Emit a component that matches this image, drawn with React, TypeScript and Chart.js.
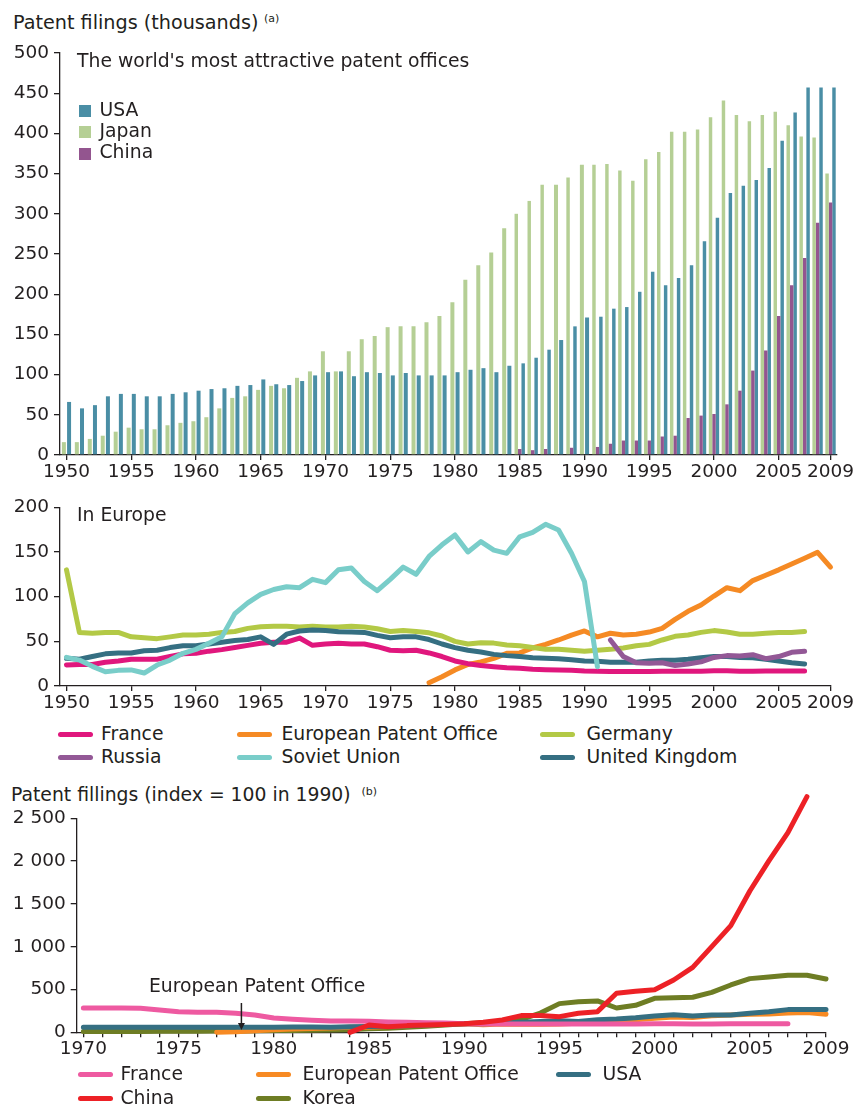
import React, { useEffect, useRef } from "react";
import { Chart, registerables } from "chart.js";

Chart.register(...registerables);

const FONT = '"DejaVu Sans", Verdana, sans-serif';
const INK = "#231f20";
const FS = 18.5;
const TS = 18.8;

// ---------------- Panel 1: patent filings (thousands), bars ----------------
const BAR_YEARS: number[] = Array.from({ length: 60 }, (_, i) => 1950 + i);
const BAR_TICKS = [1950, 1955, 1960, 1965, 1970, 1975, 1980, 1985, 1990, 1995, 2000, 2005, 2009];

const JAPAN_K = [
  16, 16, 20, 24, 29, 34, 32, 32, 37, 40,
  42, 47, 58, 71, 73, 81, 86, 83, 96, 104,
  129, 104, 129, 144, 148, 159, 160, 160, 165, 173,
  190, 218, 236, 252, 282, 300, 316, 336, 336, 345,
  361, 361, 362, 354, 341, 368, 377, 402, 402, 405,
  420, 441, 423, 415, 423, 427, 410, 396, 395, 350,
];
const CHINA_K = [
  null, null, null, null, null, null, null, null, null, null,
  null, null, null, null, null, null, null, null, null, null,
  null, null, null, null, null, null, null, null, null, null,
  null, null, null, null, null, 7.5, 6, 7.5, null, 9,
  null, 10, 14, 18, 18, 18, 23, 24, 46, 49,
  51, 63, 80, 105, 130, 173, 211, 245, 289, 314,
];
const USA_K = [
  66, 58, 62, 73, 76, 76, 73, 73, 76, 78,
  80, 82, 83, 86, 87, 94, 88, 87, 92, 99,
  103, 104, 98, 103, 102, 99, 102, 99, 99, 99,
  103, 106, 108, 103, 111, 114, 121, 131, 143, 160,
  171, 172, 182, 184, 203, 228, 211, 220, 236, 266,
  295, 326, 335, 342, 357, 391, 426, 457, 457, 457,
];
const BAR_SERIES = [
  { name: "Japan", color: "#b5cf95", data: JAPAN_K },
  { name: "China", color: "#93558f", data: CHINA_K },
  { name: "USA", color: "#4a8ea5", data: USA_K },
];
const BAR_LEGEND = ["USA", "Japan", "China"];

// ---------------- Panel 2: In Europe (thousands), lines ----------------
const EU_YEARS: number[] = Array.from({ length: 60 }, (_, i) => 1950 + i);
const EU_TICKS = [1950, 1955, 1960, 1965, 1970, 1975, 1980, 1985, 1990, 1995, 2000, 2005, 2009];

const EU_FRANCE = [
  23.5, 24, 24, 26.5, 28, 30, 30, 30, 33, 36,
  36.6, 39, 40.7, 43, 45.5, 47.8, 49, 49, 53.7, 45.5,
  47, 47.8, 47, 47, 44, 40, 39.5, 40, 37, 33,
  28, 25, 23, 21.6, 20.5, 19.8, 18.7, 18.3, 18, 17.5,
  16.8, 16.5, 16.3, 16.3, 16.3, 16.3, 16.5, 16.5, 16.5, 16.5,
  17, 17, 16.5, 16.5, 16.8, 16.8, 16.8, 16.8, null, null,
];
const EU_EPO = [
  null, null, null, null, null, null, null, null, null, null,
  null, null, null, null, null, null, null, null, null, null,
  null, null, null, null, null, null, null, null, 3.7, 10.4,
  18, 24, 27, 31, 36.6, 37, 42.5, 46.6, 51.5, 57,
  61.6, 55, 59, 57, 58, 60.4, 64.5, 74.6, 83.6, 90.7,
  100.7, 110, 106.7, 118, 124, 130, 136.6, 143, 149.6, 133,
];
const EU_GERMANY = [
  130, 60, 59, 60, 60, 55, 54, 53, 55, 57,
  57, 58, 60, 61, 64.5, 66.4, 67, 67, 66, 67,
  66, 66, 67, 66, 64, 61, 62, 61, 59.5, 56,
  50, 47, 48.5, 48, 46, 45, 43, 41, 41, 40,
  39, 40, 41, 42.5, 45, 46.6, 51.5, 55.6, 57, 60,
  62, 60.4, 58, 58, 59, 60, 60, 61, null, null,
];
const EU_RUSSIA = [
  null, null, null, null, null, null, null, null, null, null,
  null, null, null, null, null, null, null, null, null, null,
  null, null, null, null, null, null, null, null, null, null,
  null, null, null, null, null, null, null, null, null, null,
  null, null, 51.5, 33, 26, 25.4, 26, 23, 24.6, 27,
  32, 34, 33.6, 35, 30.6, 33, 37.7, 39, null, null,
];
const EU_SOVIET = [
  32, 29, 22, 16, 17.5, 18, 14.5, 23.5, 29, 36.6,
  41, 47.8, 55, 81, 93, 102.6, 108, 111, 110, 119.4,
  115.7, 130, 132, 117, 106.7, 119.4, 133, 125, 145, 158,
  169, 150, 161.6, 152, 148.5, 167, 172, 181, 174.6, 148.5,
  117, 21.6, null, null, null, null, null, null, null, null,
  null, null, null, null, null, null, null, null, null, null,
];
const EU_UK = [
  31, 30, 33, 36, 37, 37, 39.5, 40, 43, 45,
  45, 47, 49, 51, 52, 55, 46.6, 58, 61.6, 62.7,
  62, 60.8, 60.4, 60, 56.7, 54, 55, 55, 52, 47,
  43, 40, 38, 35.4, 34, 33, 31.7, 31, 30.6, 29.5,
  28, 27.6, 26.5, 26.5, 26.5, 28, 28.7, 28.7, 30, 31.7,
  33, 33, 32, 31.7, 30, 28, 26, 24.6, null, null,
];
const EU_SERIES = [
  { name: "France", color: "#e0177d", data: EU_FRANCE, order: 3 },
  { name: "European Patent Office", color: "#f58a24", data: EU_EPO, order: 5 },
  { name: "Germany", color: "#b3c946", data: EU_GERMANY, order: 4 },
  { name: "Russia", color: "#935896", data: EU_RUSSIA, order: 1 },
  { name: "Soviet Union", color: "#79cdc9", data: EU_SOVIET, order: 0 },
  { name: "United Kingdom", color: "#356f82", data: EU_UK, order: 2 },
];

// ---------------- Panel 3: index = 100 in 1990, lines ----------------
const IDX_YEARS: number[] = Array.from({ length: 40 }, (_, i) => 1970 + i);
const IDX_TICKS = [1970, 1975, 1980, 1985, 1990, 1995, 2000, 2005, 2009];

const IDX_FRANCE = [
  284, 284, 284, 280, 261, 241, 234, 234, 222, 202,
  167, 152, 140, 132, 132, 128, 121, 117, 113, 109,
  100, 98, 97, 97, 97, 97, 98, 98, 98, 98,
  100, 100, 98, 98, 99, 99, 99, 99, null, null,
];
const IDX_EPO = [
  null, null, null, null, null, null, null, 0, 6, 17,
  29, 39, 44, 50, 59, 60, 69, 76, 84, 93,
  100, 89, 96, 93, 94, 98, 105, 121, 136, 147,
  163, 179, 173, 192, 201, 211, 215, 225, 232, 212,
];
const IDX_USA = [
  60, 60, 59, 60, 60, 58, 60, 58, 58, 58,
  60, 62, 63, 60, 65, 67, 71, 77, 84, 94,
  100, 101, 106, 117, 125, 136, 125, 148, 156, 171,
  191, 206, 191, 202, 202, 222, 241, 265, 265, 265,
];
const IDX_CHINA = [
  null, null, null, null, null, null, null, null, null, null,
  null, null, null, null, 0, 85, 65, 78, 85, 92,
  100, 117, 144, 195, 195, 183, 222, 241, 456, 479,
  498, 611, 759, 1001, 1246, 1651, 2002, 2333, 2753, null,
];
const IDX_KOREA = [
  8, 8, 9, 10, 11, 12, 13, 14, 16, 18,
  20, 22, 24, 27, 30, 40, 48, 58, 70, 85,
  100, 112, 125, 150, 225, 335, 358, 366, 284, 315,
  397, 405, 409, 467, 553, 627, 646, 666, 666, 623,
];
const IDX_SERIES = [
  { name: "France", color: "#ee5aa1", data: IDX_FRANCE, order: 1 },
  { name: "European Patent Office", color: "#f78a23", data: IDX_EPO, order: 3 },
  { name: "USA", color: "#356f82", data: IDX_USA, order: 2 },
  { name: "China", color: "#ed2126", data: IDX_CHINA, order: 0 },
  { name: "Korea", color: "#6e7d24", data: IDX_KOREA, order: 4 },
];
// annotation: arrow at year, from value to value
const EPO_ARROW = { year: 1978.3, from: 342, to: 27 };

// ---------------- helpers ----------------
const tickFont = { family: FONT, size: FS };

function yAxis(width: number, max: number, step: number, fmt: (v: number) => string) {
  return {
    min: 0,
    max,
    ticks: { stepSize: step, padding: 5, color: INK, font: tickFont, callback: (v: any) => fmt(Number(v)) },
    grid: { drawOnChartArea: false, drawTicks: true, tickLength: 6, color: INK, lineWidth: 1.3 },
    border: { display: true, color: INK, width: 1.3 },
    afterFit: (s: any) => {
      s.width = width;
      s.paddingTop = 0;
      s.paddingBottom = 0;
    },
  };
}

function spaced(v: number): string {
  if (v >= 1000) {
    const th = Math.floor(v / 1000);
    const rest = String(v % 1000).padStart(3, "0");
    return th + " " + rest;
  }
  return String(v);
}

function lineDataset(s: any, years: number[]) {
  return {
    label: s.name,
    data: years.map((x, i) => ({ x, y: s.data[i] })),
    borderColor: s.color,
    backgroundColor: s.color,
    borderWidth: 5,
    pointRadius: 0,
    pointHoverRadius: 0,
    tension: 0,
    fill: false,
    spanGaps: false,
    clip: false,
    borderCapStyle: "round",
    borderJoinStyle: "round",
    order: s.order,
  };
}

const arrowPlugin = {
  id: "epoArrow",
  afterDatasetsDraw(chart: any) {
    const { ctx, scales } = chart;
    const px = scales.x.getPixelForValue(EPO_ARROW.year);
    const yTop = scales.y.getPixelForValue(EPO_ARROW.from);
    const yBot = scales.y.getPixelForValue(EPO_ARROW.to);
    ctx.save();
    ctx.strokeStyle = INK;
    ctx.fillStyle = INK;
    ctx.lineWidth = 1.5;
    ctx.beginPath();
    ctx.moveTo(px, yTop);
    ctx.lineTo(px, yBot - 5);
    ctx.stroke();
    ctx.beginPath();
    ctx.moveTo(px - 3.5, yBot - 7);
    ctx.lineTo(px + 3.5, yBot - 7);
    ctx.lineTo(px, yBot);
    ctx.closePath();
    ctx.fill();
    ctx.restore();
  },
};

// ---------------- chart configs ----------------
function barConfig(): any {
  return {
    type: "bar",
    data: {
      labels: BAR_YEARS.map(String),
      datasets: BAR_SERIES.map((s) => ({
        label: s.name,
        data: s.data,
        backgroundColor: s.color,
        borderWidth: 0,
        skipNull: true,
        categoryPercentage: 0.8,
        barPercentage: 1,
        maxBarThickness: 4,
      })),
    },
    options: {
      responsive: false,
      animation: false,
      events: [],
      layout: { padding: { top: 23, right: 19, left: 0, bottom: 0 } },
      plugins: { legend: { display: false }, tooltip: { enabled: false }, title: { display: false } },
      scales: {
        x: {
          type: "category",
          offset: true,
          ticks: {
            autoSkip: false,
            maxRotation: 0,
            minRotation: 0,
            padding: 1,
            color: INK,
            font: tickFont,
            callback: (_v: any, i: number) => (BAR_TICKS.includes(BAR_YEARS[i]) ? String(BAR_YEARS[i]) : ""),
          },
          grid: {
            offset: false,
            drawOnChartArea: false,
            drawTicks: true,
            tickLength: 5,
            lineWidth: 1.3,
            color: (c: any) => (BAR_TICKS.includes(BAR_YEARS[c.index]) ? INK : "rgba(0,0,0,0)"),
          },
          border: { display: true, color: INK, width: 1.3 },
          afterFit: (s: any) => {
            s.height = 30;
            s.paddingLeft = 0;
            s.paddingRight = 0;
          },
        },
        y: yAxis(60, 500, 50, (v) => String(v)),
      },
    },
  };
}

function lineConfig(
  series: any[],
  years: number[],
  tickYears: number[],
  labelYears: number[],
  xmin: number,
  xmax: number,
  padTop: number,
  padRight: number,
  xHeight: number,
  yWidth: number,
  ymax: number,
  ystep: number,
  fmt: (v: number) => string,
  plugins: any[]
): any {
  return {
    type: "line",
    data: { datasets: series.map((s) => lineDataset(s, years)) },
    plugins,
    options: {
      responsive: false,
      animation: false,
      events: [],
      layout: { padding: { top: padTop, right: padRight, left: 0, bottom: 0 } },
      plugins: { legend: { display: false }, tooltip: { enabled: false }, title: { display: false } },
      scales: {
        x: {
          type: "linear",
          min: xmin,
          max: xmax,
          afterBuildTicks: (s: any) => {
            s.ticks = tickYears.map((v) => ({ value: v }));
          },
          ticks: {
            autoSkip: false,
            maxRotation: 0,
            minRotation: 0,
            padding: 1,
            color: INK,
            font: tickFont,
            callback: (v: any) => (labelYears.includes(Number(v)) ? String(v) : ""),
          },
          grid: { drawOnChartArea: false, drawTicks: true, tickLength: 5, color: INK, lineWidth: 1.3 },
          border: { display: true, color: INK, width: 1.3 },
          afterFit: (s: any) => {
            s.height = xHeight;
            s.paddingLeft = 0;
            s.paddingRight = 0;
          },
        },
        y: yAxis(yWidth, ymax, ystep, fmt),
      },
    },
  };
}

function ChartCanvas({ top, height, make }: { top: number; height: number; make: () => any }) {
  const ref = useRef<HTMLCanvasElement | null>(null);
  useEffect(() => {
    const chart = new Chart(ref.current as HTMLCanvasElement, make());
    return () => chart.destroy();
  }, []);
  return (
    <canvas
      ref={ref}
      width={856}
      height={height}
      style={{ position: "absolute", left: 0, top, width: 856, height }}
    />
  );
}

function Txt({ x, base, size = TS, children }: { x: number; base: number; size?: number; children: React.ReactNode }) {
  return (
    <div
      style={{
        position: "absolute",
        left: x,
        top: base - 0.846 * size,
        fontSize: size,
        lineHeight: `${size}px`,
        fontFamily: FONT,
        color: INK,
        whiteSpace: "nowrap",
      }}
    >
      {children}
    </div>
  );
}

function LineLegend({
  series,
  cols,
  rows,
}: {
  series: any[];
  cols: { sx: number; tx: number }[];
  rows: number[];
}) {
  return (
    <>
      {series.map((s, i) => {
        const c = cols[i % cols.length];
        const r = rows[Math.floor(i / cols.length)];
        return (
          <React.Fragment key={s.name}>
            <div
              style={{
                position: "absolute",
                left: c.sx,
                top: r - 2.5,
                width: 35,
                height: 5,
                borderRadius: 3,
                background: s.color,
              }}
            />
            <Txt x={c.tx} base={r + 6.7}>
              {s.name}
            </Txt>
          </React.Fragment>
        );
      })}
    </>
  );
}

export default function App() {
  const barColor = (n: string) => BAR_SERIES.find((s) => s.name === n)!.color;
  return (
    <div
      style={{
        position: "absolute",
        left: 0,
        top: 0,
        width: 856,
        height: 1107,
        background: "#ffffff",
        overflow: "hidden",
        fontFamily: FONT,
      }}
    >
      {/* Panel 1 */}
      <Txt x={13} base={29.3} size={19.2}>
        Patent filings (thousands)
      </Txt>
      <Txt x={264} base={22.6} size={11}>
        (a)
      </Txt>
      <ChartCanvas top={30} height={455} make={barConfig} />
      <Txt x={77} base={68.3}>
        The world's most attractive patent offices
      </Txt>
      {BAR_LEGEND.map((n, i) => (
        <React.Fragment key={n}>
          <div
            style={{
              position: "absolute",
              left: 79,
              top: 105 + i * 21.4,
              width: 12,
              height: 12,
              background: barColor(n),
            }}
          />
          <Txt x={99.5} base={116.7 + i * 21.3}>
            {n}
          </Txt>
        </React.Fragment>
      ))}

      {/* Panel 2 */}
      <ChartCanvas
        top={490}
        height={232}
        make={() =>
          lineConfig(EU_SERIES, EU_YEARS, EU_TICKS, EU_TICKS, 1949.5, 2009, 17.3, 25.5, 36, 60, 200, 50, (v) => String(v), [])
        }
      />
      <Txt x={77} base={522.3}>
        In Europe
      </Txt>
      <LineLegend
        series={EU_SERIES}
        cols={[
          { sx: 58, tx: 101 },
          { sx: 237, tx: 281.5 },
          { sx: 540, tx: 586.5 },
        ]}
        rows={[734, 757.5]}
      />

      {/* Panel 3 */}
      <Txt x={11} base={801.7}>
        Patent fillings (index = 100 in 1990)
      </Txt>
      <Txt x={361.5} base={795} size={11}>
        (b)
      </Txt>
      <ChartCanvas
        top={785}
        height={282}
        make={() =>
          lineConfig(IDX_SERIES, IDX_YEARS, IDX_YEARS, IDX_TICKS, 1969.65, 2009, 33.3, 30, 34.7, 76.7, 2500, 500, spaced, [arrowPlugin])
        }
      />
      <Txt x={149} base={993.3}>
        European Patent Office
      </Txt>
      <LineLegend
        series={IDX_SERIES}
        cols={[
          { sx: 78, tx: 120.5 },
          { sx: 256, tx: 302.5 },
          { sx: 556, tx: 602.5 },
        ]}
        rows={[1074, 1098]}
      />
    </div>
  );
}
